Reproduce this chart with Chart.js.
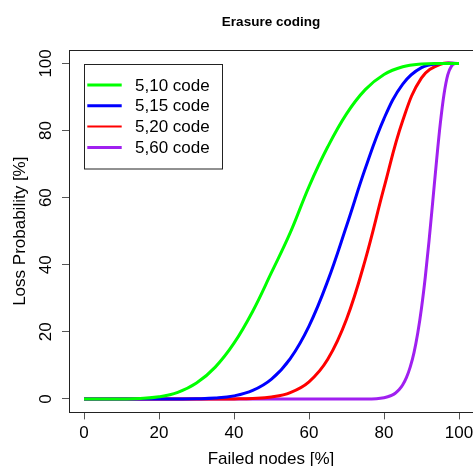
<!DOCTYPE html>
<html>
<head>
<meta charset="utf-8">
<title>Erasure coding</title>
<script src="https://cdn.jsdelivr.net/npm/chart.js@4.4.1/dist/chart.umd.min.js"></script>
<style>
  html, body { margin: 0; padding: 0; background: #fff; overflow: hidden; }
  canvas { display: block; }
</style>
</head>
<body>
<canvas id="erasureChart" width="473" height="466"></canvas>
<script>
const failedPct = [0, 5, 10, 15, 20, 25, 30, 35, 40, 45, 50, 55, 60, 65, 70, 75, 80, 85, 90, 95, 100];

// Loss probability [%] per code
const code5of10 = [0, 0, 0.01, 0.14, 0.64, 1.97, 4.73, 9.49, 16.62, 26.16, 37.70, 49.56, 63.31, 75.15, 84.97, 92.19, 96.72, 99.01, 99.84, 99.99, 100];
const code5of15 = [0, 0, 0, 0, 0, 0.01, 0.07, 0.28, 0.93, 2.55, 5.92, 12.04, 21.73, 35.19, 51.55, 68.65, 83.58, 93.83, 98.73, 99.94, 100];
const code5of20 = [0, 0, 0, 0, 0, 0, 0, 0, 0.03, 0.15, 0.59, 1.89, 5.10, 11.82, 23.75, 41.48, 62.96, 82.98, 95.68, 99.74, 100];

// 5,60 rises very late and steep, so it is read at a finer step
const failedPct60 = [0, 70, 75, 78, 80, 81, 82, 83, 84, 85, 86, 87, 88, 89, 90, 91, 92, 93, 94, 95, 96, 97, 98, 99, 100];
const code5of60 = [0, 0, 0, 0.1, 0.39, 0.66, 1.07, 1.73, 2.73, 4.24, 6.43, 9.56, 13.82, 19.63, 27.10, 36.28, 47.03, 58.86, 70.91, 81.97, 90.82, 96.59, 99.2, 99.94, 100];

const seriesLabels = ['5,10 code', '5,15 code', '5,20 code', '5,60 code'];
const seriesColors = ['#00FF00', '#0000FF', '#FF0000', '#A020F0'];
const axisTicks = [0, 20, 40, 60, 80, 100];

const FONT = '"Liberation Sans", Arial, Helvetica, sans-serif';

document.addEventListener('DOMContentLoaded', () => {
    const ctx = document.getElementById('erasureChart');
    if (!ctx) return;

    const toPoints = (xs, ys) => xs.map((x, i) => ({ x: x, y: ys[i] }));

    // coarse curves get a plain bezier (smoother), the steep one stays monotone
    const makeSet = (i, xs, ys, monotone) => ({
        label: seriesLabels[i],
        data: toPoints(xs, ys),
        borderColor: seriesColors[i],
        backgroundColor: seriesColors[i],
        borderWidth: 3,
        pointRadius: 0,
        pointHoverRadius: 0,
        fill: false,
        tension: 0.4,
        cubicInterpolationMode: monotone ? 'monotone' : 'default'
    });

    // box around the plot region, R style
    const frame = {
        id: 'frame',
        afterDatasetsDraw(chart) {
            const a = chart.chartArea;
            const c = chart.ctx;
            c.save();
            c.strokeStyle = '#222';
            c.lineWidth = 1;
            const l = Math.floor(a.left) + 0.5;
            const t = Math.floor(a.top) + 0.5;
            const b = Math.floor(a.bottom) + 0.5;
            c.strokeRect(l, t, a.right + 5 - l, b - t);
            c.restore();
        }
    };

    // legend box in the top left corner of the plot
    const boxLegend = {
        id: 'boxLegend',
        afterDraw(chart) {
            const c = chart.ctx;
            c.save();
            c.fillStyle = '#fff';
            c.fillRect(84.5, 64.5, 138, 104.5);
            c.strokeStyle = '#222';
            c.lineWidth = 1;
            c.strokeRect(84.5, 64.5, 138, 104.5);
            c.font = '17px ' + FONT;
            c.textBaseline = 'middle';
            c.textAlign = 'left';
            chart.data.datasets.forEach((ds, i) => {
                const y = 85 + i * 20.8;
                c.beginPath();
                c.strokeStyle = ds.borderColor;
                c.lineWidth = i === 2 ? 2 : 3;
                c.moveTo(87.3, y);
                c.lineTo(121.7, y);
                c.stroke();
                c.fillStyle = '#000';
                c.fillText(ds.label, 135, y + 1);
            });
            c.restore();
        }
    };

    const tickGrid = {
        drawOnChartArea: false,
        drawTicks: true,
        tickLength: 7,
        color: '#555',
        lineWidth: 1
    };

    const config = {
        type: 'line',
        data: {
            datasets: [
                makeSet(0, failedPct, code5of10, false),
                makeSet(1, failedPct, code5of15, false),
                makeSet(2, failedPct, code5of20, false),
                makeSet(3, failedPct60, code5of60, true)
            ]
        },
        options: {
            responsive: false,
            animation: false,
            devicePixelRatio: 1,
            layout: { padding: 0 },
            plugins: {
                legend: { display: false },
                tooltip: { enabled: false },
                title: {
                    display: true,
                    text: 'Erasure coding',
                    fullSize: false,
                    color: '#000',
                    font: { family: FONT, size: 13.5, weight: 'bold' },
                    padding: { top: 14.4, bottom: 19.4 }
                }
            },
            scales: {
                x: {
                    type: 'linear',
                    min: -4,
                    max: 103.73,
                    afterBuildTicks: s => { s.ticks = axisTicks.map(v => ({ value: v })); },
                    afterFit: s => {
                        s.height = 53.6;
                        // the last label may run off the edge, like in the original
                        s.paddingLeft = 0;
                        s.paddingRight = 0;
                    },
                    grid: tickGrid,
                    border: { display: false },
                    ticks: {
                        color: '#000',
                        padding: 4,
                        maxRotation: 0,
                        autoSkip: false,
                        font: { family: FONT, size: 17 }
                    },
                    title: {
                        display: true,
                        text: 'Failed nodes [%]',
                        color: '#000',
                        font: { family: FONT, size: 17 },
                        padding: { top: 0, bottom: -3.8 }
                    }
                },
                y: {
                    type: 'linear',
                    min: -4,
                    max: 104,
                    afterBuildTicks: s => { s.ticks = axisTicks.map(v => ({ value: v })); },
                    afterFit: s => {
                        s.width = 69;
                        s.paddingTop = 0;
                        s.paddingBottom = 0;
                    },
                    grid: tickGrid,
                    border: { display: false },
                    ticks: {
                        color: '#000',
                        padding: 2,
                        minRotation: 90,
                        maxRotation: 90,
                        crossAlign: 'center',
                        autoSkip: false,
                        font: { family: FONT, size: 17 }
                    },
                    title: {
                        display: true,
                        text: 'Loss Probability [%]',
                        color: '#000',
                        font: { family: FONT, size: 17 },
                        padding: { top: 9.7, bottom: 0 }
                    }
                }
            }
        },
        plugins: [frame, boxLegend]
    };

    new Chart(ctx, config);
});
</script>
</body>
</html>
